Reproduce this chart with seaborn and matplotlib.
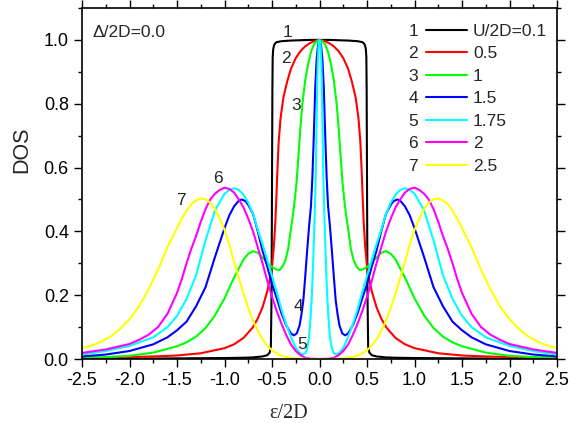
import matplotlib
matplotlib.use("Agg")
import matplotlib.pyplot as plt
import seaborn as sns
import pandas as pd
from matplotlib.lines import Line2D
from matplotlib.ticker import MultipleLocator
from matplotlib.transforms import IdentityTransform

# U/2D = 0.1
x1 = [-2.5, -2.0, -1.5, -1.0, -0.8, -0.7, -0.6, -0.55, -0.525, -0.512, -0.505, -0.5, -0.496, -0.493, -0.488, -0.479, -0.465, -0.45, -0.4, -0.3, -0.2, -0.1, 0.0,
      0.1, 0.2, 0.3, 0.4, 0.45, 0.465, 0.479, 0.488, 0.493, 0.496, 0.5, 0.505, 0.512, 0.525, 0.55, 0.6, 0.7, 0.8, 1.0, 1.5, 2.0, 2.5]
y1 = [0.001, 0.001, 0.002, 0.003, 0.004, 0.005, 0.008, 0.012, 0.02, 0.04, 0.2, 0.55, 0.85, 0.945, 0.97, 0.983, 0.99, 0.993, 0.996, 0.998, 0.999, 1.0, 1.0,
      1.0, 0.999, 0.998, 0.996, 0.993, 0.99, 0.983, 0.97, 0.945, 0.85, 0.55, 0.2, 0.04, 0.02, 0.012, 0.008, 0.005, 0.004, 0.003, 0.002, 0.001, 0.001]

# U/2D = 0.5
x2 = [-2.5, -2.25, -2.0, -1.75, -1.5, -1.25, -1.0, -0.9, -0.8, -0.7, -0.65, -0.6, -0.55, -0.52, -0.5, -0.48, -0.465, -0.455, -0.445, -0.43, -0.41, -0.38, -0.34, -0.3, -0.25, -0.2, -0.15, -0.1, -0.05, 0.0,
      0.05, 0.1, 0.15, 0.2, 0.25, 0.3, 0.34, 0.38, 0.41, 0.43, 0.445, 0.455, 0.465, 0.48, 0.5, 0.52, 0.55, 0.6, 0.65, 0.7, 0.8, 0.9, 1.0, 1.25, 1.5, 1.75, 2.0, 2.25, 2.5]
y2 = [0.003, 0.004, 0.006, 0.008, 0.011, 0.018, 0.034, 0.046, 0.066, 0.1, 0.127, 0.162, 0.212, 0.255, 0.29, 0.355, 0.43, 0.5, 0.58, 0.68, 0.755, 0.82, 0.87, 0.91, 0.943, 0.965, 0.98, 0.99, 0.997, 1.0,
      0.997, 0.99, 0.98, 0.965, 0.943, 0.91, 0.87, 0.82, 0.755, 0.68, 0.58, 0.5, 0.43, 0.355, 0.29, 0.255, 0.212, 0.162, 0.127, 0.1, 0.066, 0.046, 0.034, 0.018, 0.011, 0.008, 0.006, 0.004, 0.003]

# U/2D = 1
x3 = [-2.5, -2.25, -2.0, -1.75, -1.5, -1.4, -1.3, -1.2, -1.1, -1.0, -0.9, -0.8, -0.75, -0.7, -0.65, -0.6, -0.55, -0.5, -0.45, -0.42, -0.39, -0.36, -0.33, -0.3, -0.28, -0.26, -0.24, -0.22, -0.2, -0.18, -0.15, -0.12, -0.09, -0.06, -0.03, 0.0,
      0.03, 0.06, 0.09, 0.12, 0.15, 0.18, 0.2, 0.22, 0.24, 0.26, 0.28, 0.3, 0.33, 0.36, 0.39, 0.42, 0.45, 0.5, 0.55, 0.6, 0.65, 0.7, 0.75, 0.8, 0.9, 1.0, 1.1, 1.2, 1.3, 1.4, 1.5, 1.75, 2.0, 2.25, 2.5]
y3 = [0.004, 0.006, 0.01, 0.02, 0.04, 0.052, 0.07, 0.097, 0.137, 0.19, 0.255, 0.312, 0.33, 0.338, 0.333, 0.318, 0.302, 0.288, 0.28, 0.279, 0.29, 0.308, 0.345, 0.41, 0.45, 0.5, 0.56, 0.645, 0.73, 0.8, 0.875, 0.925, 0.962, 0.985, 0.996, 1.0,
      0.996, 0.985, 0.962, 0.925, 0.875, 0.8, 0.73, 0.645, 0.56, 0.5, 0.45, 0.41, 0.345, 0.308, 0.29, 0.279, 0.28, 0.288, 0.302, 0.318, 0.333, 0.338, 0.33, 0.312, 0.255, 0.19, 0.137, 0.097, 0.07, 0.052, 0.04, 0.02, 0.01, 0.006, 0.004]

# U/2D = 1.5
x4 = [-2.5, -2.25, -2.0, -1.75, -1.6, -1.5, -1.4, -1.3, -1.2, -1.1, -1.0, -0.95, -0.9, -0.85, -0.82, -0.78, -0.75, -0.7, -0.65, -0.6, -0.55, -0.5, -0.45, -0.4, -0.35, -0.3, -0.27, -0.24, -0.21, -0.19, -0.17, -0.15, -0.13, -0.11, -0.09, -0.075, -0.06, -0.045, -0.03, -0.015, 0.0,
      0.015, 0.03, 0.045, 0.06, 0.075, 0.09, 0.11, 0.13, 0.15, 0.17, 0.19, 0.21, 0.24, 0.27, 0.3, 0.35, 0.4, 0.45, 0.5, 0.55, 0.6, 0.65, 0.7, 0.75, 0.78, 0.82, 0.85, 0.9, 0.95, 1.0, 1.1, 1.2, 1.3, 1.4, 1.5, 1.6, 1.75, 2.0, 2.25, 2.5]
y4 = [0.008, 0.014, 0.025, 0.046, 0.068, 0.09, 0.117, 0.165, 0.225, 0.32, 0.41, 0.45, 0.478, 0.496, 0.5, 0.495, 0.483, 0.455, 0.4, 0.34, 0.29, 0.235, 0.19, 0.143, 0.105, 0.08, 0.074, 0.08, 0.105, 0.14, 0.185, 0.26, 0.34, 0.415, 0.48, 0.57, 0.7, 0.85, 0.94, 0.985, 1.0,
      0.985, 0.94, 0.85, 0.7, 0.57, 0.48, 0.415, 0.34, 0.26, 0.185, 0.14, 0.105, 0.08, 0.074, 0.08, 0.105, 0.143, 0.19, 0.235, 0.29, 0.34, 0.4, 0.455, 0.483, 0.495, 0.5, 0.496, 0.478, 0.45, 0.41, 0.32, 0.225, 0.165, 0.117, 0.09, 0.068, 0.046, 0.025, 0.014, 0.008]

# U/2D = 1.75
x5 = [-2.5, -2.25, -2.0, -1.75, -1.6, -1.5, -1.4, -1.3, -1.2, -1.1, -1.0, -0.95, -0.9, -0.85, -0.8, -0.75, -0.7, -0.65, -0.6, -0.55, -0.5, -0.45, -0.4, -0.35, -0.3, -0.25, -0.21, -0.18, -0.15, -0.13, -0.11, -0.095, -0.08, -0.065, -0.05, -0.04, -0.03, -0.02, -0.01, 0.0,
      0.01, 0.02, 0.03, 0.04, 0.05, 0.065, 0.08, 0.095, 0.11, 0.13, 0.15, 0.18, 0.21, 0.25, 0.3, 0.35, 0.4, 0.45, 0.5, 0.55, 0.6, 0.65, 0.7, 0.75, 0.8, 0.85, 0.9, 0.95, 1.0, 1.1, 1.2, 1.3, 1.4, 1.5, 1.6, 1.75, 2.0, 2.25, 2.5]
y5 = [0.014, 0.025, 0.041, 0.068, 0.1, 0.135, 0.188, 0.262, 0.372, 0.466, 0.518, 0.53, 0.535, 0.53, 0.515, 0.49, 0.455, 0.405, 0.36, 0.31, 0.26, 0.21, 0.155, 0.108, 0.068, 0.035, 0.02, 0.014, 0.018, 0.033, 0.068, 0.125, 0.2, 0.32, 0.46, 0.57, 0.76, 0.92, 0.985, 1.0,
      0.985, 0.92, 0.76, 0.57, 0.46, 0.32, 0.2, 0.125, 0.068, 0.033, 0.018, 0.014, 0.02, 0.035, 0.068, 0.108, 0.155, 0.21, 0.26, 0.31, 0.36, 0.405, 0.455, 0.49, 0.515, 0.53, 0.535, 0.53, 0.518, 0.466, 0.372, 0.262, 0.188, 0.135, 0.1, 0.068, 0.041, 0.025, 0.014]

# U/2D = 2
x6 = [-2.5, -2.25, -2.0, -1.9, -1.8, -1.7, -1.6, -1.5, -1.45, -1.4, -1.35, -1.3, -1.25, -1.2, -1.15, -1.1, -1.05, -1.0, -0.95, -0.9, -0.85, -0.8, -0.75, -0.7, -0.65, -0.6, -0.55, -0.5, -0.45, -0.4, -0.35, -0.3, -0.25, -0.2, -0.15, -0.1, 0.0,
      0.1, 0.15, 0.2, 0.25, 0.3, 0.35, 0.4, 0.45, 0.5, 0.55, 0.6, 0.65, 0.7, 0.75, 0.8, 0.85, 0.9, 0.95, 1.0, 1.05, 1.1, 1.15, 1.2, 1.25, 1.3, 1.35, 1.4, 1.45, 1.5, 1.6, 1.7, 1.8, 1.9, 2.0, 2.25, 2.5]
y6 = [0.019, 0.03, 0.047, 0.06, 0.076, 0.1, 0.142, 0.207, 0.25, 0.3, 0.345, 0.385, 0.43, 0.47, 0.5, 0.518, 0.53, 0.537, 0.533, 0.522, 0.5, 0.475, 0.44, 0.4, 0.35, 0.3, 0.245, 0.195, 0.15, 0.11, 0.075, 0.045, 0.025, 0.012, 0.004, 0.001, 0.0,
      0.001, 0.004, 0.012, 0.025, 0.045, 0.075, 0.11, 0.15, 0.195, 0.245, 0.3, 0.35, 0.4, 0.44, 0.475, 0.5, 0.522, 0.533, 0.537, 0.53, 0.518, 0.5, 0.47, 0.43, 0.385, 0.345, 0.3, 0.25, 0.207, 0.142, 0.1, 0.076, 0.06, 0.047, 0.03, 0.019]

# U/2D = 2.5
x7 = [-2.5, -2.4, -2.3, -2.2, -2.1, -2.0, -1.9, -1.8, -1.7, -1.6, -1.5, -1.45, -1.4, -1.35, -1.3, -1.25, -1.2, -1.15, -1.1, -1.05, -1.0, -0.95, -0.9, -0.85, -0.8, -0.75, -0.7, -0.65, -0.6, -0.55, -0.5, -0.4, -0.3, -0.2, -0.1, 0.0,
      0.1, 0.2, 0.3, 0.4, 0.5, 0.55, 0.6, 0.65, 0.7, 0.75, 0.8, 0.85, 0.9, 0.95, 1.0, 1.05, 1.1, 1.15, 1.2, 1.25, 1.3, 1.35, 1.4, 1.45, 1.5, 1.6, 1.7, 1.8, 1.9, 2.0, 2.1, 2.2, 2.3, 2.4, 2.5]
y7 = [0.034, 0.042, 0.054, 0.07, 0.094, 0.125, 0.165, 0.218, 0.28, 0.35, 0.41, 0.44, 0.465, 0.485, 0.497, 0.503, 0.5, 0.49, 0.47, 0.44, 0.405, 0.36, 0.305, 0.255, 0.205, 0.16, 0.12, 0.088, 0.062, 0.042, 0.027, 0.01, 0.003, 0.001, 0.0, 0.0,
      0.0, 0.001, 0.003, 0.01, 0.027, 0.042, 0.062, 0.088, 0.12, 0.16, 0.205, 0.255, 0.305, 0.36, 0.405, 0.44, 0.47, 0.49, 0.5, 0.503, 0.497, 0.485, 0.465, 0.44, 0.41, 0.35, 0.28, 0.218, 0.165, 0.125, 0.094, 0.07, 0.054, 0.042, 0.034]

curve_ids = ["1", "2", "3", "4", "5", "6", "7"]
u_labels = ["U/2D=0.1", "0.5", "1", "1.5", "1.75", "2", "2.5"]
colors = ["#000000", "#ff0000", "#00ff00", "#0000ff", "#00ffff", "#ff00ff", "#ffff00"]

# where the curve numbers sit next to the curves (data coords)
tag_x = [-0.34, -0.355, -0.25, -0.225, -0.185, -1.065, -1.46]
tag_y = [1.023, 0.941, 0.795, 0.164, 0.046, 0.565, 0.497]

frames = []
for cid, xs, ys in zip(curve_ids, [x1, x2, x3, x4, x5, x6, x7], [y1, y2, y3, y4, y5, y6, y7]):
    frames.append(pd.DataFrame({"eps": xs, "dos": ys, "curve": cid}))
df = pd.concat(frames, ignore_index=True)

sns.set_style("ticks")
plt.rcParams["font.family"] = ["Liberation Sans", "DejaVu Sans"]
plt.rcParams["axes.unicode_minus"] = False

fig = plt.figure(figsize=(5.78, 4.23), dpi=100)
ax = fig.add_axes([0.1419, 0.1513, 0.8218, 0.8298])

sns.lineplot(data=df, x="eps", y="dos", hue="curve", hue_order=curve_ids,
             palette=colors, estimator=None, sort=False, lw=1.5,
             legend=False, ax=ax)

ax.set_xlim(-2.5, 2.5)
ax.set_ylim(0, 1.1)
ax.xaxis.set_major_locator(MultipleLocator(0.5))
ax.xaxis.set_minor_locator(MultipleLocator(0.25))
ax.yaxis.set_major_locator(MultipleLocator(0.2))
ax.yaxis.set_minor_locator(MultipleLocator(0.1))
ax.tick_params(which="both", direction="out", top=True, right=True,
               labelsize=13, width=1, color="black", labelcolor="black")
ax.tick_params(which="major", length=5.5, pad=4)
ax.tick_params(which="minor", length=3)
for sp in ax.spines.values():
    sp.set_linewidth(1.2)
    sp.set_color("black")

ax.set_ylabel("DOS", fontsize=15.5)
ax.yaxis.set_label_coords(-0.105, 0.595)
ax.set_xlabel("ε/2D", fontsize=14.5, family=["Liberation Serif", "DejaVu Serif"])
ax.xaxis.set_label_coords(0.434, -0.128)

ax.text(0.023, 0.917, "Δ/2D=0.0", transform=ax.transAxes, fontsize=12.5)

for t, tx, ty in zip(curve_ids, tag_x, tag_y):
    ax.text(tx, ty, t, fontsize=12.5, ha="center", va="center")

handles = [Line2D([], [], color=c, lw=1.5) for c in colors]
leg = ax.legend(handles, u_labels, loc="upper left", bbox_to_anchor=(0.724, 0.955),
                frameon=False, fontsize=12.5, handlelength=2.36, handletextpad=0.35,
                labelspacing=0.42, borderpad=0, borderaxespad=0)

# curve numbers in front of the legend lines
fig.canvas.draw()
renderer = fig.canvas.get_renderer()
for h, txt, cid in zip(leg.legend_handles, leg.get_texts(), curve_ids):
    hb = h.get_window_extent(renderer)
    tb = txt.get_window_extent(renderer)
    fig.text(hb.x0 - 8, tb.y0, cid, transform=IdentityTransform(),
             fontsize=12.5, ha="right", va="bottom")

fig.savefig("out.png", dpi=100)
